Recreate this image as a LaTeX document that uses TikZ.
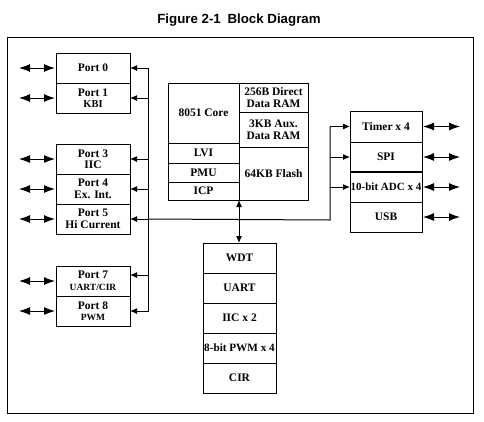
\documentclass[tikz,border=0pt]{standalone}
\usepackage{fontspec}
\setmainfont{Liberation Serif}
\newfontfamily\titlefont{Liberation Sans}
\usetikzlibrary{positioning,arrows.meta}

\tikzset{
  blk/.style={draw, line width=1pt, inner sep=0pt, outer sep=0pt, align=center,
    minimum width=74pt, minimum height=30pt, font=\bfseries\fontsize{11.5}{11.5}\selectfont},
  io/.style={line width=1pt, {Latex[length=11pt,width=8pt]}-{Latex[length=11pt,width=8pt]}},
  iosmall/.style={line width=1pt, {Latex[length=7pt,width=6pt]}-{Latex[length=7pt,width=6pt]}},
  bus/.style={line width=1pt, -{Latex[length=7pt,width=6pt]}},
  wire/.style={line width=1pt}
}

\begin{document}
\begin{tikzpicture}[x=1pt,y=-1pt]
\useasboundingbox (0,0) rectangle (484,421);
\node[font=\titlefont\bfseries\fontsize{13.3}{15}\selectfont, anchor=base] (title) at (239,23) {Figure 2-1\enspace Block Diagram};
\draw[line width=1pt] (7,37) rectangle (473,413);

% ports
\node[blk] (p0) at (93,68) {Port 0};
\node[blk, below=0pt of p0] (p1) {Port 1\\{\fontsize{10.5}{11}\selectfont KBI}};
\node[blk] (p3) at (93,159) {Port 3\\IIC};
\node[blk, below=0pt of p3] (p4) {Port 4\\Ex. Int.};
\node[blk, below=0pt of p4] (p5) {Port 5\\Hi Current};
\node[blk] (p7) at (93,281) {Port 7\\{\fontsize{9.5}{11}\selectfont UART/CIR}};
\node[blk, below=0pt of p7] (p8) {Port 8\\{\fontsize{9.5}{11}\selectfont PWM}};

% core
\node[blk, minimum width=71pt, minimum height=60pt] (core) at (203.5,113) {8051 Core};
\node[blk, minimum width=71pt, minimum height=20pt, below=0pt of core] (lvi) {LVI};
\node[blk, minimum width=71pt, minimum height=19pt, below=0pt of lvi] (pmu) {PMU};
\node[blk, minimum width=71pt, minimum height=18pt, below=0pt of pmu] (icp) {ICP};
\node[blk, minimum width=69pt, minimum height=29pt, anchor=north west] (dram) at (core.north east) {256B Direct\\Data RAM};
\node[blk, minimum width=69pt, minimum height=35pt, below=0pt of dram] (aram) {3KB Aux.\\Data RAM};
\node[blk, minimum width=69pt, minimum height=53pt, below=0pt of aram] (flash) {64KB Flash};

% right peripherals
\node[blk, minimum width=72pt, minimum height=31pt] (tmr) at (386,126.5) {Timer x 4};
\node[blk, minimum width=72pt, below=0pt of tmr] (spi) {SPI};
\node[blk, minimum width=72pt, below=0pt of spi, font=\bfseries\fontsize{11}{11.5}\selectfont] (adc) {10-bit ADC x 4};
\node[blk, minimum width=72pt, below=0pt of adc] (usb) {USB};
\draw[line width=1.6pt] (spi.south west) -- (spi.south east);

% lower peripherals
\node[blk, minimum width=73pt] (wdt) at (239.5,258) {WDT};
\node[blk, minimum width=73pt, below=0pt of wdt] (uart) {UART};
\node[blk, minimum width=73pt, below=0pt of uart] (iic) {IIC x 2};
\node[blk, minimum width=73pt, below=0pt of iic, font=\bfseries\fontsize{11.2}{11.5}\selectfont] (pwm) {8-bit PWM x 4};
\node[blk, minimum width=73pt, below=0pt of pwm] (cir) {CIR};

% internal bus
\coordinate (bustop) at (148,68);
\coordinate (busbot) at (148,312);
\coordinate (rbus) at (330,220);
\draw[wire] (bustop) -- (busbot);
\draw[wire] (p5.east -| bustop) -- (rbus) -- (rbus |- tmr.west);
\foreach \p in {p0,p1,p3,p4,p5,p8}
  \draw[bus] (\p.east -| bustop) -- (\p.east);
\draw[bus] ([yshift=6pt]p7.east -| bustop) -- ([yshift=6pt]p7.east);
\foreach \q in {tmr,spi,adc}
  \draw[bus] (\q.west -| rbus) -- (\q.west);
\draw[iosmall] (icp.south east) -- (icp.south east |- wdt.north);

% pins
\foreach \p in {p0,p1,p3,p4,p5,p7,p8}
  \draw[io] ([xshift=-37pt]\p.west) -- ([xshift=-1pt]\p.west);
\foreach \q in {tmr,spi,adc,usb}
  \draw[io] ([xshift=1pt]\q.east) -- ([xshift=38pt]\q.east);
\end{tikzpicture}
\end{document}
